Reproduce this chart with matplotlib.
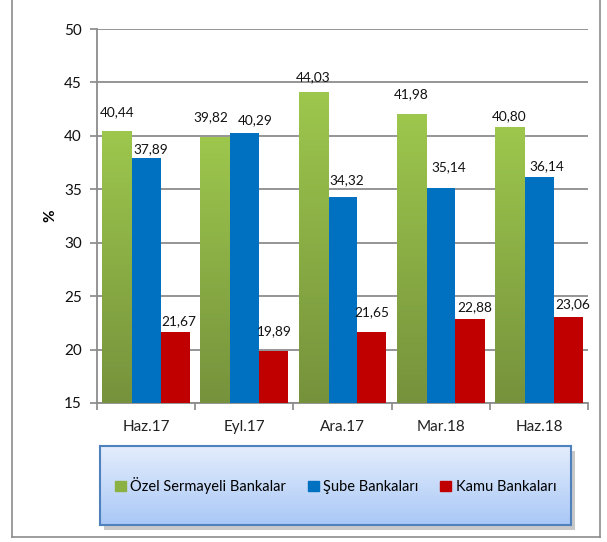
import numpy as np
import matplotlib.pyplot as plt
from matplotlib.patches import Rectangle
from matplotlib.lines import Line2D
from matplotlib.colors import LinearSegmentedColormap

plt.rcParams['font.family'] = ['Lato', 'DejaVu Sans']

categories = ['Haz.17', 'Eyl.17', 'Ara.17', 'Mar.18', 'Haz.18']
ozel = [40.44, 39.82, 44.03, 41.98, 40.80]
sube = [37.89, 40.29, 34.32, 35.14, 36.14]
kamu = [21.67, 19.89, 21.65, 22.88, 23.06]
series_names = ['Özel Sermayeli Bankalar', 'Şube Bankaları', 'Kamu Bankaları']

# label offsets from bar tops (pixels), as placed in the original
dy_ozel = [19, 21, 16, 21, 11]
dy_sube = [9, 13, 16, 21, 11]
dy_kamu = [11, 20, 20, 12, 13]
dx_ozel = [0, -4, 0, 0, 0]
dx_sube = [5, 11, 4, 8, 8]
dx_kamu = [3, 1, 0, 5, 5]

fig = plt.figure(figsize=(6.07, 5.42), dpi=100)
ax = fig.add_axes([97 / 607, 1 - 403 / 542, 491 / 607, 374 / 542])

x = np.arange(len(categories))
w = 0.298
blue_c, red_c = '#0070c0', '#c00000'

b1 = ax.bar(x - w, ozel, w, color='none', zorder=3)
b2 = ax.bar(x, sube, w, color=blue_c, zorder=3)
b3 = ax.bar(x + w, kamu, w, color=red_c, zorder=3)

# gradient on green bars
grad = np.linspace(0, 1, 256).reshape(-1, 1)
gcmap = LinearSegmentedColormap.from_list('g', ['#76923c', '#9dc74d'])
for p in b1:
    x0 = p.get_x()
    ax.imshow(grad, cmap=gcmap, aspect='auto', origin='lower',
              extent=(x0, x0 + p.get_width(), 15, p.get_height()), zorder=3)

for vals, dxs, dys, bars in [(ozel, dx_ozel, dy_ozel, b1), (sube, dx_sube, dy_sube, b2),
                             (kamu, dx_kamu, dy_kamu, b3)]:
    for v, dx, dy, p in zip(vals, dxs, dys, bars):
        ax.annotate(f'{v:.2f}'.replace('.', ','), (p.get_x() + p.get_width() / 2, v),
                    xytext=(dx, dy), textcoords='offset pixels',
                    ha='center', va='center', fontsize=9.8, color='#111111', zorder=4)

ax.set_xlim(-0.5, len(categories) - 0.5)
ax.set_ylim(15, 50)
ax.set_yticks(np.arange(15, 51, 5))
ax.set_xticks(x)
ax.set_xticklabels(categories, fontsize=11, color='#222222')
ax.set_xticks(np.arange(-0.5, len(categories), 1), minor=True)
ax.tick_params(axis='x', which='major', length=0, pad=12)
ax.tick_params(axis='x', which='minor', length=5, color='#888888', width=1.2)
ax.tick_params(axis='y', length=5, color='#888888', width=1.2, labelsize=11, labelcolor='#111111', pad=6)
ax.grid(axis='y', color='#8c8c8c', linewidth=1.3, zorder=0)
for s in ['top', 'right']:
    ax.spines[s].set_visible(False)
for s in ['left', 'bottom']:
    ax.spines[s].set_color('#8c8c8c')
    ax.spines[s].set_linewidth(1.3)
ax.set_ylabel('%', fontsize=11, fontweight='bold', labelpad=5)

# outer frame
fc = '#8c8c8c'
fig.add_artist(Line2D([12 / 607, 12 / 607], [1, 1 - 537 / 542], transform=fig.transFigure, color=fc, lw=1.2))
fig.add_artist(Line2D([600 / 607, 600 / 607], [1, 1 - 537 / 542], transform=fig.transFigure, color=fc, lw=1.2))
fig.add_artist(Line2D([12 / 607, 600 / 607], [1 - 537 / 542] * 2, transform=fig.transFigure, color=fc, lw=1.2))

# legend box with gradient and soft shadow
lx0, ly0, lw_, lh = 100 / 607, 1 - 525 / 542, 471 / 607, 79 / 542
shadow = Rectangle((lx0 + 4 / 607, ly0 - 5 / 542), lw_, lh, transform=fig.transFigure,
                   facecolor='#c8c8c8', edgecolor='none', zorder=-1)
fig.patches.append(shadow)
lax = fig.add_axes([lx0, ly0, lw_, lh])
lax.set_zorder(2)
lcmap = LinearSegmentedColormap.from_list('b', ['#a9c8f6', '#e4edfc'])
lax.imshow(grad, cmap=lcmap, aspect='auto', origin='lower', extent=(0, 1, 0, 1))
lax.set_xlim(0, 1)
lax.set_ylim(0, 1)
lax.set_xticks([])
lax.set_yticks([])
for s in lax.spines.values():
    s.set_color('#4f81bd')
    s.set_linewidth(1.5)

handles = [Rectangle((0, 0), 1, 1, color=c) for c in ['#8bb143', blue_c, red_c]]
lax.legend(handles, series_names, loc='center', ncol=3, frameon=False, fontsize=10.5,
           handlelength=0.75, handleheight=0.75, handletextpad=0.3, columnspacing=1.5,
           bbox_to_anchor=(0.5, 0.5))

fig.savefig('out.png', dpi=100)
